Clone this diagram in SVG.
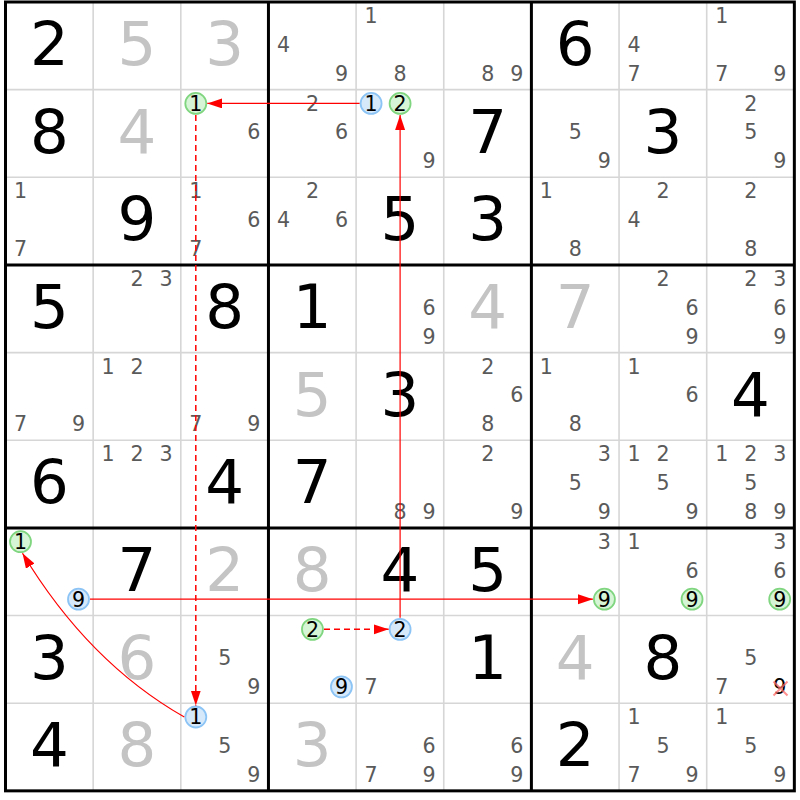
<svg xmlns="http://www.w3.org/2000/svg" width="800" height="800" viewBox="0 0 800 800">
<style>
text{font-family:"DejaVu Sans","Liberation Sans",sans-serif;text-anchor:middle}
.g{font-size:61px;fill:#000}
.s{font-size:61px;fill:#c4c4c4}
.c{font-size:20.6px;fill:#5a5a5a}
.k{font-size:20.6px;fill:#000}
.thin{stroke:#d6d6d6;stroke-width:1.6;fill:none}
.thick{stroke:#000;stroke-width:3;fill:none}
.cg{fill:#d6f5d6;stroke:#80d680;stroke-width:1.8}
.cb{fill:#d6e9fb;stroke:#8cc4f5;stroke-width:1.8}
.ln{stroke:#f00;stroke-width:1.2;fill:none}
.dl{stroke:#f00;stroke-width:1.5;fill:none;stroke-dasharray:6 4}
</style>
<defs>
<marker id="ah" markerUnits="userSpaceOnUse" markerWidth="16" markerHeight="11" refX="15" refY="5" orient="auto" viewBox="0 0 16 11">
<path d="M0,0 L15,5 L0,10 z" fill="#f00"/>
</marker>
</defs>
<rect x="0" y="0" width="800" height="800" fill="#fff"/>
<g id="grid">
<path class="thin" d="M93.15,2V790.85M180.8,2V790.85M356.1,2V790.85M443.75,2V790.85M619.05,2V790.85M706.7,2V790.85M5.5,89.65H794.35M5.5,177.3H794.35M5.5,352.6H794.35M5.5,440.25H794.35M5.5,615.55H794.35M5.5,703.2H794.35"/>
<path class="thick" d="M268.45,2V790.85M531.4,2V790.85M5.5,264.95H794.35M5.5,527.9H794.35"/>
<rect class="thick" x="5.5" y="2" width="788.85" height="788.85"/>
</g>
<g id="r0c0"><text class="g" x="49.3" y="65">2</text></g>
<g id="r0c1"><text class="s" x="136.95" y="65">5</text></g>
<g id="r0c2"><text class="s" x="224.6" y="65">3</text></g>
<g id="r0c3"><text class="c" x="283.45" y="51.8">4</text><text class="c" x="341.45" y="80.6">9</text></g>
<g id="r0c4"><text class="c" x="371.1" y="23.1">1</text><text class="c" x="400.1" y="80.6">8</text></g>
<g id="r0c5"><text class="c" x="487.75" y="80.6">8</text><text class="c" x="516.75" y="80.6">9</text></g>
<g id="r0c6"><text class="g" x="575.2" y="65">6</text></g>
<g id="r0c7"><text class="c" x="634.05" y="51.8">4</text><text class="c" x="634.05" y="80.6">7</text></g>
<g id="r0c8"><text class="c" x="721.7" y="23.1">1</text><text class="c" x="721.7" y="80.6">7</text><text class="c" x="779.7" y="80.6">9</text></g>

<g id="r1c0"><text class="g" x="49.3" y="152.65">8</text></g>
<g id="r1c1"><text class="s" x="136.95" y="152.65">4</text></g>
<g id="r1c2"><circle class="cg" cx="195.8" cy="103.45" r="10.5"/><text class="k" x="195.8" y="110.9">1</text><text class="c" x="253.8" y="139.45">6</text></g>
<g id="r1c3"><text class="c" x="312.45" y="110.75">2</text><text class="c" x="341.45" y="139.45">6</text></g>
<g id="r1c4"><circle class="cb" cx="371.1" cy="103.45" r="10.5"/><text class="k" x="371.1" y="110.9">1</text><circle class="cg" cx="400.1" cy="103.45" r="10.5"/><text class="k" x="400.1" y="110.9">2</text><text class="c" x="429.1" y="168.25">9</text></g>
<g id="r1c5"><text class="g" x="487.55" y="152.65">7</text></g>
<g id="r1c6"><text class="c" x="575.4" y="139.45">5</text><text class="c" x="604.4" y="168.25">9</text></g>
<g id="r1c7"><text class="g" x="662.85" y="152.65">3</text></g>
<g id="r1c8"><text class="c" x="750.7" y="110.75">2</text><text class="c" x="750.7" y="139.45">5</text><text class="c" x="779.7" y="168.25">9</text></g>

<g id="r2c0"><text class="c" x="20.5" y="198.4">1</text><text class="c" x="20.5" y="255.9">7</text></g>
<g id="r2c1"><text class="g" x="136.95" y="240.3">9</text></g>
<g id="r2c2"><text class="c" x="195.8" y="198.4">1</text><text class="c" x="253.8" y="227.1">6</text><text class="c" x="195.8" y="255.9">7</text></g>
<g id="r2c3"><text class="c" x="312.45" y="198.4">2</text><text class="c" x="283.45" y="227.1">4</text><text class="c" x="341.45" y="227.1">6</text></g>
<g id="r2c4"><text class="g" x="399.9" y="240.3">5</text></g>
<g id="r2c5"><text class="g" x="487.55" y="240.3">3</text></g>
<g id="r2c6"><text class="c" x="546.4" y="198.4">1</text><text class="c" x="575.4" y="255.9">8</text></g>
<g id="r2c7"><text class="c" x="663.05" y="198.4">2</text><text class="c" x="634.05" y="227.1">4</text></g>
<g id="r2c8"><text class="c" x="750.7" y="198.4">2</text><text class="c" x="750.7" y="255.9">8</text></g>

<g id="r3c0"><text class="g" x="49.3" y="327.95">5</text></g>
<g id="r3c1"><text class="c" x="137.15" y="286.05">2</text><text class="c" x="166.15" y="286.05">3</text></g>
<g id="r3c2"><text class="g" x="224.6" y="327.95">8</text></g>
<g id="r3c3"><text class="g" x="312.25" y="327.95">1</text></g>
<g id="r3c4"><text class="c" x="429.1" y="314.75">6</text><text class="c" x="429.1" y="343.55">9</text></g>
<g id="r3c5"><text class="s" x="487.55" y="327.95">4</text></g>
<g id="r3c6"><text class="s" x="575.2" y="327.95">7</text></g>
<g id="r3c7"><text class="c" x="663.05" y="286.05">2</text><text class="c" x="692.05" y="314.75">6</text><text class="c" x="692.05" y="343.55">9</text></g>
<g id="r3c8"><text class="c" x="750.7" y="286.05">2</text><text class="c" x="779.7" y="286.05">3</text><text class="c" x="779.7" y="314.75">6</text><text class="c" x="779.7" y="343.55">9</text></g>

<g id="r4c0"><text class="c" x="20.5" y="431.2">7</text><text class="c" x="78.5" y="431.2">9</text></g>
<g id="r4c1"><text class="c" x="108.15" y="373.7">1</text><text class="c" x="137.15" y="373.7">2</text></g>
<g id="r4c2"><text class="c" x="195.8" y="431.2">7</text><text class="c" x="253.8" y="431.2">9</text></g>
<g id="r4c3"><text class="s" x="312.25" y="415.6">5</text></g>
<g id="r4c4"><text class="g" x="399.9" y="415.6">3</text></g>
<g id="r4c5"><text class="c" x="487.75" y="373.7">2</text><text class="c" x="516.75" y="402.4">6</text><text class="c" x="487.75" y="431.2">8</text></g>
<g id="r4c6"><text class="c" x="546.4" y="373.7">1</text><text class="c" x="575.4" y="431.2">8</text></g>
<g id="r4c7"><text class="c" x="634.05" y="373.7">1</text><text class="c" x="692.05" y="402.4">6</text></g>
<g id="r4c8"><text class="g" x="750.5" y="415.6">4</text></g>

<g id="r5c0"><text class="g" x="49.3" y="503.25">6</text></g>
<g id="r5c1"><text class="c" x="108.15" y="461.35">1</text><text class="c" x="137.15" y="461.35">2</text><text class="c" x="166.15" y="461.35">3</text></g>
<g id="r5c2"><text class="g" x="224.6" y="503.25">4</text></g>
<g id="r5c3"><text class="g" x="312.25" y="503.25">7</text></g>
<g id="r5c4"><text class="c" x="400.1" y="518.85">8</text><text class="c" x="429.1" y="518.85">9</text></g>
<g id="r5c5"><text class="c" x="487.75" y="461.35">2</text><text class="c" x="516.75" y="518.85">9</text></g>
<g id="r5c6"><text class="c" x="604.4" y="461.35">3</text><text class="c" x="575.4" y="490.05">5</text><text class="c" x="604.4" y="518.85">9</text></g>
<g id="r5c7"><text class="c" x="634.05" y="461.35">1</text><text class="c" x="663.05" y="461.35">2</text><text class="c" x="663.05" y="490.05">5</text><text class="c" x="692.05" y="518.85">9</text></g>
<g id="r5c8"><text class="c" x="721.7" y="461.35">1</text><text class="c" x="750.7" y="461.35">2</text><text class="c" x="779.7" y="461.35">3</text><text class="c" x="750.7" y="490.05">5</text><text class="c" x="750.7" y="518.85">8</text><text class="c" x="779.7" y="518.85">9</text></g>

<g id="r6c0"><circle class="cg" cx="20.5" cy="541.7" r="10.5"/><text class="k" x="20.5" y="549.15">1</text><circle class="cb" cx="78.5" cy="599.2" r="10.5"/><text class="k" x="78.5" y="606.65">9</text></g>
<g id="r6c1"><text class="g" x="136.95" y="590.9">7</text></g>
<g id="r6c2"><text class="s" x="224.6" y="590.9">2</text></g>
<g id="r6c3"><text class="s" x="312.25" y="590.9">8</text></g>
<g id="r6c4"><text class="g" x="399.9" y="590.9">4</text></g>
<g id="r6c5"><text class="g" x="487.55" y="590.9">5</text></g>
<g id="r6c6"><text class="c" x="604.4" y="549">3</text><circle class="cg" cx="604.4" cy="599.2" r="10.5"/><text class="k" x="604.4" y="606.65">9</text></g>
<g id="r6c7"><text class="c" x="634.05" y="549">1</text><text class="c" x="692.05" y="577.7">6</text><circle class="cg" cx="692.05" cy="599.2" r="10.5"/><text class="k" x="692.05" y="606.65">9</text></g>
<g id="r6c8"><text class="c" x="779.7" y="549">3</text><text class="c" x="779.7" y="577.7">6</text><circle class="cg" cx="779.7" cy="599.2" r="10.5"/><text class="k" x="779.7" y="606.65">9</text></g>

<g id="r7c0"><text class="g" x="49.3" y="678.55">3</text></g>
<g id="r7c1"><text class="s" x="136.95" y="678.55">6</text></g>
<g id="r7c2"><text class="c" x="224.8" y="665.35">5</text><text class="c" x="253.8" y="694.15">9</text></g>
<g id="r7c3"><circle class="cg" cx="312.45" cy="629.35" r="10.5"/><text class="k" x="312.45" y="636.8">2</text><circle class="cb" cx="341.45" cy="686.85" r="10.5"/><text class="k" x="341.45" y="694.3">9</text></g>
<g id="r7c4"><circle class="cb" cx="400.1" cy="629.35" r="10.5"/><text class="k" x="400.1" y="636.8">2</text><text class="c" x="371.1" y="694.15">7</text></g>
<g id="r7c5"><text class="g" x="487.55" y="678.55">1</text></g>
<g id="r7c6"><text class="s" x="575.2" y="678.55">4</text></g>
<g id="r7c7"><text class="g" x="662.85" y="678.55">8</text></g>
<g id="r7c8"><text class="c" x="750.7" y="665.35">5</text><text class="c" x="721.7" y="694.15">7</text><text class="k" x="779.7" y="694.15">9</text><path d="M773.5,681.5L787.5,695.5M787.5,681.5L773.5,695.5" stroke="#ff6b6b" stroke-opacity="0.75" stroke-width="2" fill="none"/></g>

<g id="r8c0"><text class="g" x="49.3" y="766.2">4</text></g>
<g id="r8c1"><text class="s" x="136.95" y="766.2">8</text></g>
<g id="r8c2"><circle class="cb" cx="195.8" cy="717" r="10.5"/><text class="k" x="195.8" y="724.45">1</text><text class="c" x="224.8" y="753">5</text><text class="c" x="253.8" y="781.8">9</text></g>
<g id="r8c3"><text class="s" x="312.25" y="766.2">3</text></g>
<g id="r8c4"><text class="c" x="429.1" y="753">6</text><text class="c" x="371.1" y="781.8">7</text><text class="c" x="429.1" y="781.8">9</text></g>
<g id="r8c5"><text class="c" x="516.75" y="753">6</text><text class="c" x="516.75" y="781.8">9</text></g>
<g id="r8c6"><text class="g" x="575.2" y="766.2">2</text></g>
<g id="r8c7"><text class="c" x="634.05" y="724.3">1</text><text class="c" x="663.05" y="753">5</text><text class="c" x="634.05" y="781.8">7</text><text class="c" x="692.05" y="781.8">9</text></g>
<g id="r8c8"><text class="c" x="721.7" y="724.3">1</text><text class="c" x="750.7" y="753">5</text><text class="c" x="779.7" y="781.8">9</text></g>

<g id="connectors">
<path class="ln" d="M359.6,103.45H207.3" marker-end="url(#ah)"/>
<path class="dl" d="M195.8,115V705.5" marker-end="url(#ah)"/>
<path class="ln" d="M184.3,717Q88,662 22.5,553.2" marker-end="url(#ah)"/>
<path class="ln" d="M90,599.2H592.9" marker-end="url(#ah)"/>
<path class="dl" d="M324,629.35H388.6" marker-end="url(#ah)"/>
<path class="ln" d="M400.1,617.85V114.95" marker-end="url(#ah)"/>
</g>
</svg>
